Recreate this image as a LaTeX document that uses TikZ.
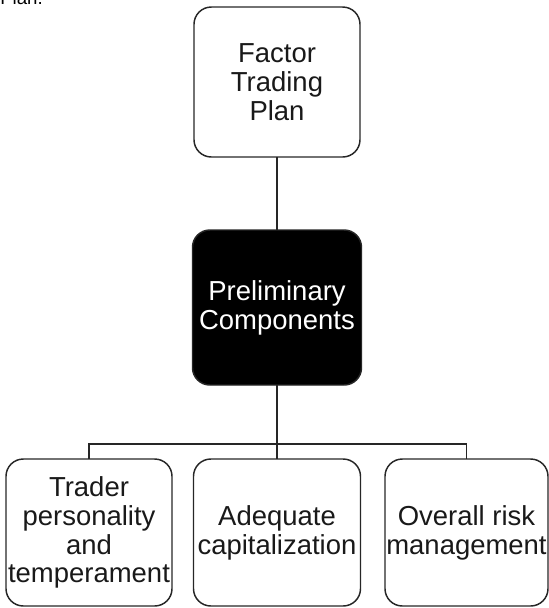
\documentclass[tikz,border=0pt]{standalone}
\usepackage{fontspec}
\setmainfont{Liberation Sans}
\begin{document}
\begin{tikzpicture}[x=0.75pt,y=-0.75pt,
  box/.style={draw=black!85,line width=1.1pt,rounded corners=13pt,inner sep=0pt,outer sep=0pt,
    align=center,font=\fontsize{20.6}{21.6}\selectfont,text=black!90},
  dark/.style={box,fill=black,text=white},
  conn/.style={draw=black!85,line width=1.1pt}]
\useasboundingbox (0,0) rectangle (549,608);
\node[anchor=base west,font=\fontsize{14}{16}\selectfont,inner sep=0pt] (pl) at (0,4) {Plan.};
\node[box,minimum width=124.5pt,minimum height=112.5pt] (top) at (277,82) {Factor\\Trading\\Plan};
\node[dark,minimum width=126.75pt,minimum height=116.25pt] (mid) at (277,307.5) {Preliminary\\Components};
\node[box,minimum width=124.5pt,minimum height=110.25pt] (l) at (89,532.5) {Trader\\personality\\and\\temperament};
\node[box,minimum width=125.25pt,minimum height=110.25pt] (m) at (277,532.5) {Adequate\\capitalization};
\node[box,minimum width=122.25pt,minimum height=110.25pt] (r) at (466.5,532.5) {Overall risk\\management};
\coordinate (bus) at (277,444);
\draw[conn] (top.south) -- (mid.north);
\draw[conn] (mid.south) -- (bus);
\draw[conn] (l.north) |- (bus) -| (r.north);
\draw[conn] (bus) -- (m.north);
\end{tikzpicture}
\end{document}
